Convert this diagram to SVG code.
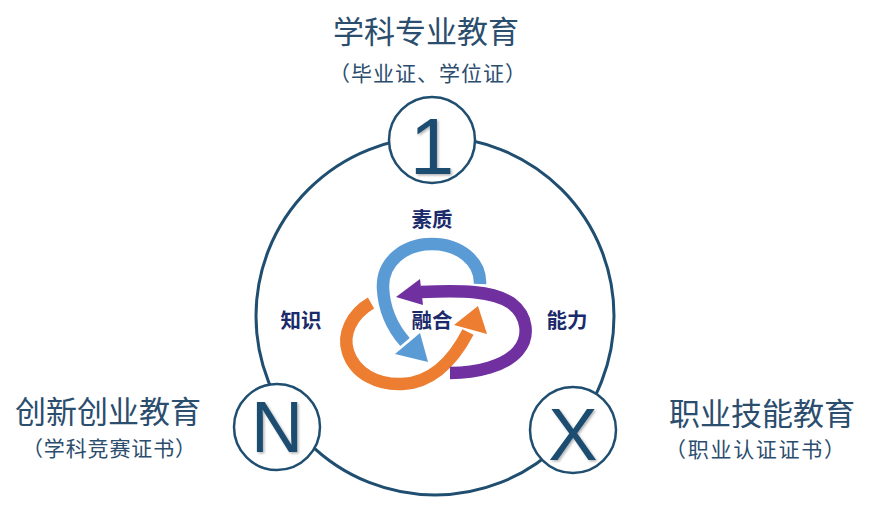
<svg xmlns="http://www.w3.org/2000/svg" width="872" height="523" viewBox="0 0 872 523">
<defs>
<filter id="sh" x="-20%" y="-20%" width="140%" height="140%">
<feDropShadow dx="1.5" dy="1.5" stdDeviation="1.2" flood-color="#000" flood-opacity="0.3"/>
</filter>
<style>
.ring{fill:none;stroke:#1f4e70;stroke-width:3}
.node{fill:#fff;stroke:#1f4e70;stroke-width:2.5}
.big{font-family:"Liberation Sans","DejaVu Sans",sans-serif;fill:#1f4e70;text-anchor:middle}
.title{font-family:"Noto Sans CJK SC",sans-serif;fill:#2b4d6e;text-anchor:middle;font-size:31px}
.sub{font-family:"Noto Sans CJK SC",sans-serif;fill:#2b4d6e;font-size:21px}
.lab{font-family:"Noto Sans CJK SC",sans-serif;fill:#1b2a6b;text-anchor:middle;font-size:20.5px;font-weight:bold}
.arc{fill:none;stroke-width:12.5;stroke-linecap:butt}
</style>
</defs>
<rect width="872" height="523" fill="#fff"/>

<g id="connectors">
<circle class="ring" cx="435" cy="316" r="179"/>
</g>

<g id="node-1">
<circle class="node" cx="432" cy="140" r="43"/>
<text class="big" x="432" y="174" font-size="80" filter="url(#sh)">1</text>
</g>
<g id="node-N">
<circle class="node" cx="277" cy="427" r="43"/>
<text class="big" x="277" y="452" font-size="72" filter="url(#sh)">N</text>
</g>
<g id="node-X">
<circle class="node" cx="573" cy="430" r="43"/>
<text class="big" x="573" y="460" font-size="74" filter="url(#sh)">X</text>
</g>

<g id="label-top">
<text class="title" x="426" y="43">学科专业教育</text>
<text class="sub" x="329" y="81" textLength="197" lengthAdjust="spacing">（毕业证、学位证）</text>
</g>
<g id="label-left">
<text class="title" x="108" y="423">创新创业教育</text>
<text class="sub" x="22" y="456" textLength="174" lengthAdjust="spacing">（学科竞赛证书）</text>
</g>
<g id="label-right">
<text class="title" x="762" y="425">职业技能教育</text>
<text class="sub" x="665" y="457" textLength="180" lengthAdjust="spacing">（职业认证证书）</text>
</g>

<g id="fusion">
<path class="arc" stroke="#5b9bd5" d="M480,284 C481,261 459,244 432,244 C404,244 382,262 383,288 C384,309 391,326 405,342"/>
<polygon fill="#5b9bd5" points="395,354 420,333 428,362"/>
<path class="arc" stroke="#ed7d31" d="M371,303 C352,314 342,334 348,352 C355,374 378,385 402,384 C428,383 451,365 468,332"/>
<polygon fill="#ed7d31" points="454,325 487,334 478,306"/>
<path class="arc" stroke="#7030a0" d="M450,373 C477,373 505,366 518,351 C530,337 528,316 511,303 C493,291 462,290 421,292"/>
<polygon fill="#7030a0" points="420,279 423,305 396,297"/>
<text class="lab" x="432" y="227">素质</text>
<text class="lab" x="301" y="328">知识</text>
<text class="lab" x="432" y="328">融合</text>
<text class="lab" x="567" y="328">能力</text>
</g>
</svg>
